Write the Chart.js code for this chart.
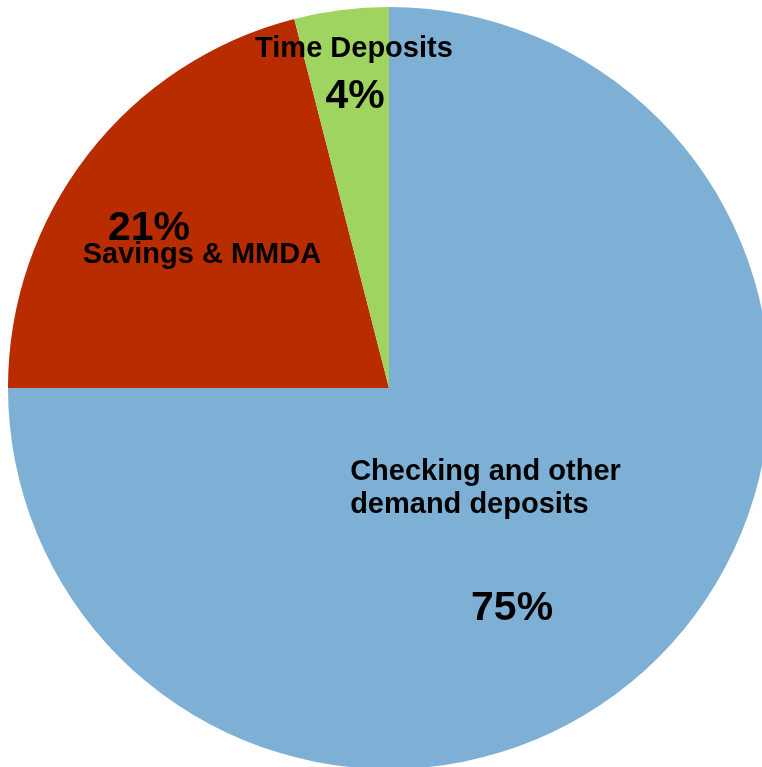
<!DOCTYPE html>
<html>
<head>
<meta charset="utf-8">
<script src="https://cdn.jsdelivr.net/npm/chart.js@4/dist/chart.umd.min.js"></script>
<style>
  html, body { margin: 0; padding: 0; background: #fff; overflow: hidden; }
  #wrap { position: relative; width: 762px; height: 767px; overflow: hidden; }
  #wrap canvas { position: absolute; left: 0; top: 0; }
</style>
</head>
<body>
<div id="wrap"><canvas id="deposits" width="778" height="776"></canvas></div>
<script>
// deposit mix pie
var categories = ['Checking and other demand deposits', 'Savings & MMDA', 'Time Deposits'];
var shares = [75, 21, 4];
var sliceColors = ['#7EB0D5', '#B82C00', '#9ED45F'];

// label text for each slice; pct lines drawn bigger
// offsets are in units of the pie radius from its centre
var sliceLabels = [
  { lines: ['Checking and other', 'demand deposits'], dx: -0.102, dy: 0.241, align: 'left', pdx: 0.323, pdy: 0.609 },
  { lines: ['Savings & MMDA'], dx: -0.491, dy: -0.328, align: 'center', pdx: -0.630, pdy: -0.388 },
  { lines: ['Time Deposits'], dx: -0.092, dy: -0.869, align: 'center', pdx: -0.089, pdy: -0.735 }
];

var labelPlugin = {
  id: 'sliceText',
  afterDatasetsDraw: function(chart) {
    var ctx = chart.ctx;
    var arcs = chart.getDatasetMeta(0).data;
    ctx.save();
    ctx.fillStyle = '#000';
    ctx.textBaseline = 'alphabetic';
    arcs.forEach(function(arc, i) {
      var cx = arc.x, cy = arc.y, r = arc.outerRadius;
      var l = sliceLabels[i];
      ctx.font = 'bold 29px "Liberation Sans", Arial, sans-serif';
      ctx.textAlign = l.align;
      l.lines.forEach(function(t, j) {
        ctx.fillText(t, cx + l.dx * r, cy + l.dy * r + j * 33);
      });
      ctx.font = 'bold 41px "Liberation Sans", Arial, sans-serif';
      ctx.textAlign = 'center';
      ctx.fillText(shares[i] + '%', cx + l.pdx * r, cy + l.pdy * r);
    });
    ctx.restore();
  }
};

new Chart('deposits', {
  type: 'pie',
  data: {
    labels: categories,
    datasets: [{
      data: shares,
      backgroundColor: sliceColors,
      borderWidth: 0
    }]
  },
  options: {
    responsive: false,
    animation: false,
    layout: { padding: 7 },
    plugins: {
      legend: { display: false },
      tooltip: { enabled: false }
    }
  },
  plugins: [labelPlugin]
});
</script>
</body>
</html>
